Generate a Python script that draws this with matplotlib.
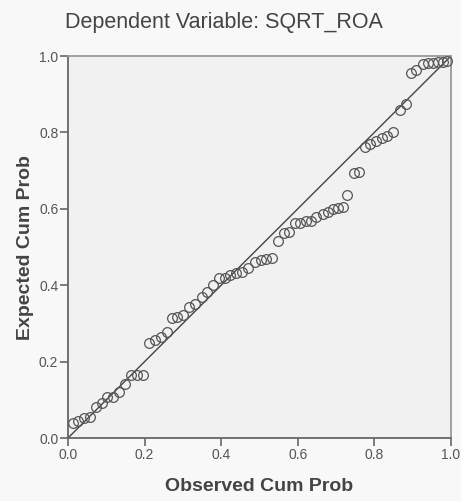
import matplotlib
matplotlib.use("Agg")
import matplotlib.pyplot as plt

plt.rcParams["font.family"] = ["Liberation Sans", "DejaVu Sans"]

# observed vs expected cumulative probabilities
observed = [0.012, 0.027, 0.042, 0.057, 0.073, 0.088, 0.103, 0.118, 0.134, 0.149,
            0.164, 0.179, 0.197, 0.212, 0.227, 0.242, 0.258, 0.271, 0.285, 0.301,
            0.317, 0.332, 0.349, 0.362, 0.378, 0.394, 0.410, 0.423, 0.439, 0.454,
            0.471, 0.488, 0.503, 0.517, 0.533, 0.549, 0.564, 0.578, 0.593, 0.607,
            0.621, 0.636, 0.649, 0.665, 0.680, 0.693, 0.706, 0.719, 0.730, 0.748,
            0.761, 0.775, 0.790, 0.804, 0.819, 0.834, 0.849, 0.867, 0.883, 0.896,
            0.910, 0.926, 0.941, 0.954, 0.967, 0.980, 0.990]
expected = [0.040, 0.045, 0.052, 0.056, 0.082, 0.092, 0.108, 0.108, 0.121, 0.141,
            0.165, 0.165, 0.165, 0.250, 0.256, 0.265, 0.277, 0.315, 0.318, 0.322,
            0.344, 0.350, 0.370, 0.383, 0.400, 0.418, 0.418, 0.427, 0.431, 0.435,
            0.444, 0.462, 0.467, 0.470, 0.472, 0.516, 0.536, 0.540, 0.562, 0.562,
            0.567, 0.567, 0.578, 0.586, 0.592, 0.599, 0.601, 0.606, 0.636, 0.693,
            0.697, 0.763, 0.771, 0.778, 0.785, 0.791, 0.802, 0.859, 0.874, 0.956,
            0.963, 0.979, 0.981, 0.982, 0.984, 0.985, 0.988]
ticks = [0.0, 0.2, 0.4, 0.6, 0.8, 1.0]
tick_labels = ["0.0", "0.2", "0.4", "0.6", "0.8", "1.0"]

fig = plt.figure(figsize=(4.61, 5.01), dpi=100, facecolor="#f8f8f8")
ax = fig.add_axes([0.1475, 0.1257, 0.8305, 0.7623])
ax.set_facecolor("#f1f1f1")

ax.plot([0, 1], [0, 1], color="#444444", linewidth=1.0, zorder=2)
ax.plot(observed, expected, linestyle="none", marker="o", markersize=7,
        markerfacecolor="none", markeredgecolor="#555555", markeredgewidth=0.9,
        zorder=3, clip_on=False)

ax.set_xlim(0, 1)
ax.set_ylim(0, 1)
ax.set_xticks(ticks)
ax.set_xticklabels(tick_labels)
ax.set_yticks(ticks)
ax.set_yticklabels(tick_labels)
ax.tick_params(direction="out", length=5.5, width=1.2, color="#666666",
               labelcolor="#555555", labelsize=10, pad=1.5)

for side in ["left", "bottom"]:
    ax.spines[side].set_color("#666666")
    ax.spines[side].set_linewidth(1.3)
for side in ["top", "right"]:
    ax.spines[side].set_color("#9a9a9a")
    ax.spines[side].set_linewidth(1.3)

ax.set_xlabel("Observed Cum Prob", fontsize=14, fontweight="bold", color="#444444")
ax.set_ylabel("Expected Cum Prob", fontsize=14, fontweight="bold", color="#444444")
ax.xaxis.set_label_coords(0.5, -0.128)
ax.yaxis.set_label_coords(-0.112, 0.5)
ax.xaxis.label.set_va("center")
ax.yaxis.label.set_va("center")

fig.text(0.486, 0.956, "Dependent Variable: SQRT_ROA", ha="center", va="center",
         fontsize=15.5, color="#444444")

fig.savefig("out.png", dpi=100, facecolor=fig.get_facecolor())
